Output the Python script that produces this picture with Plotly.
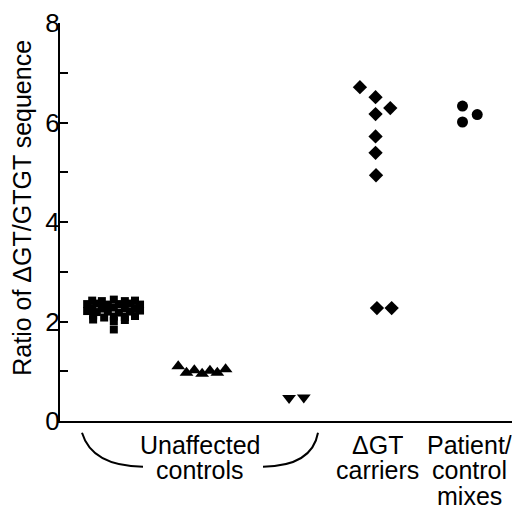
import plotly.graph_objects as go

# ---- data (x in arbitrary horizontal units 0..10, y = ratio) ----
sq_x = [0.70, 0.91, 1.17, 1.41, 1.63,
        0.59, 0.80, 1.04, 1.28, 1.52, 1.74,
        0.70, 0.91, 1.17, 1.41, 1.63,
        0.59, 0.80, 1.04, 1.28, 1.52, 1.74,
        0.72, 0.96, 1.17, 1.41, 1.63,
        0.72, 1.17, 1.41,
        1.17]
sq_y = [2.42, 2.41, 2.44, 2.41, 2.42,
        2.35, 2.36, 2.34, 2.35, 2.36, 2.34,
        2.27, 2.26, 2.28, 2.26, 2.27,
        2.21, 2.19, 2.20, 2.18, 2.20, 2.22,
        2.12, 2.08, 2.10, 2.09, 2.11,
        2.04, 2.01, 2.03,
        1.84]

tu_x = [2.57, 2.75, 2.92, 3.09, 3.26, 3.42, 3.60]
tu_y = [1.10, 0.97, 1.02, 0.95, 1.01, 0.97, 1.04]

td_x = [4.98, 5.30]
td_y = [0.46, 0.47]

di_x = [6.52, 6.86, 7.18, 6.86, 6.86, 6.86, 6.87, 6.89, 7.21]
di_y = [6.71, 6.51, 6.29, 6.17, 5.72, 5.39, 4.94, 2.27, 2.27]

ci_x = [8.75, 9.07, 8.75]
ci_y = [6.33, 6.16, 6.01]

group_labels = [["Unaffected", "controls"], ["ΔGT", "carriers"], ["Patient/", "control", "mixes"]]
group_label_x = [3.05, 6.91, 8.91]
y_title = "Ratio of ΔGT/GTGT sequence"

FONT = "Liberation Sans, Arial, sans-serif"
FS = 26
FS_LAB = 25

fig = go.Figure()
def add(x, y, symbol, size):
    fig.add_trace(go.Scatter(x=x, y=y, mode="markers", cliponaxis=False,
                             marker=dict(symbol=symbol, size=size, color="black",
                                         line=dict(width=0))))
add(sq_x, sq_y, "square", 8)
add(tu_x, tu_y, "triangle-up", 12)
add(td_x, td_y, "triangle-down", 12)
add(di_x, di_y, "diamond", 11)
add(ci_x, ci_y, "circle", 11)

# page body has an 8px margin: figure is 512x508 so it fills the 520x516 window
W, H = 512, 508
T, B = 8, 95
plot_h = H - T - B
OFF = 8
def py(p):  # reference pixel row -> paper y
    return (H - B - (p - OFF)) / plot_h
def ux(p):  # reference pixel column -> x units
    return (p - 60) / 46.0
def px_paper(p):  # reference pixel column -> paper x
    return (p - 60) / 460.0

line_centers = [445, 471, 497]
for lines, gx in zip(group_labels, group_label_x):
    for i, t in enumerate(lines):
        fig.add_annotation(x=gx, y=py(line_centers[i]), xref="x", yref="paper",
                           text=t, showarrow=False, xanchor="center", yanchor="middle",
                           height=26, borderpad=0,
                           font=dict(size=FS_LAB, color="black", family=FONT))

# y-axis title (placed as rotated text)
fig.add_annotation(x=px_paper(22), y=py(204), xref="paper", yref="paper",
                   text=y_title, textangle=-90, showarrow=False,
                   xanchor="center", yanchor="middle", borderpad=0,
                   font=dict(size=FS - 1, color="black", family=FONT))

# bracket under "Unaffected controls"
path = (f"M {ux(82)},{py(433)} Q {ux(92)},{py(467)} {ux(143)},{py(467.5)} "
        f"M {ux(263)},{py(467.5)} Q {ux(312)},{py(467)} {ux(318)},{py(433)}")
fig.add_shape(type="path", path=path, xref="x", yref="paper",
              line=dict(color="black", width=2))

fig.update_layout(
    width=W, height=H,
    margin=dict(l=52, r=0, t=T, b=B),
    paper_bgcolor="white", plot_bgcolor="white",
    showlegend=False,
    font=dict(family=FONT, color="black", size=FS),
    xaxis=dict(range=[0, 10], showline=True, linecolor="black", linewidth=2,
               showgrid=False, zeroline=False, showticklabels=False, ticks=""),
    yaxis=dict(range=[0, 8], showline=True, linecolor="black", linewidth=2,
               showgrid=False, zeroline=False, ticks="inside", ticklen=8,
               tickwidth=2, tickcolor="black", dtick=2, tick0=0,
               ticklabeloverflow="allow", ticklabelstandoff=-7,
               tickfont=dict(size=FS, family=FONT),
               minor=dict(dtick=1, ticks="inside", ticklen=8, tickwidth=2, tickcolor="black")),
)

fig.write_html("out.html")
